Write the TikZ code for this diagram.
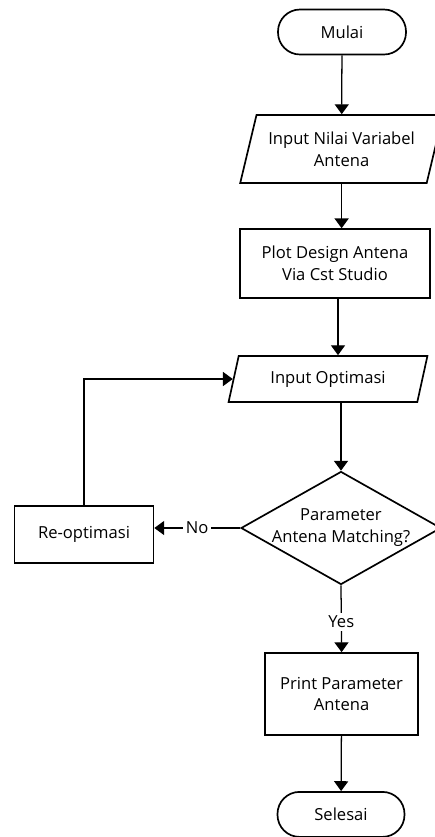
\documentclass[tikz,border=0pt]{standalone}
\usepackage{fontspec}
\setmainfont{Open Sans}
\usetikzlibrary{arrows.meta,shapes.geometric}

\begin{document}
\begin{tikzpicture}[
    >={Triangle[width=10pt,length=7pt]},
    every node/.style={font=\fontsize{11.8}{15.6}\selectfont},
    flow/.style={->, line width=0.9pt},
    term/.style={draw, line width=1.2pt, rounded corners=0.55cm, minimum width=3.2cm, minimum height=1.125cm, align=center},
    io/.style={draw, line width=1.2pt, trapezium, trapezium left angle=68, trapezium right angle=112, trapezium stretches, align=center, inner sep=0pt},
    proc/.style={draw, line width=1.2pt, align=center, inner sep=0pt},
    decide/.style={draw, line width=1.2pt, diamond, aspect=1.77, align=center, inner sep=-1.6pt},
    lbl/.style={fill=white, inner sep=2pt}
]
\useasboundingbox (0,0) rectangle (10.85,-20.925);

\node[term] (start) at (8.55,-0.8) {Mulai};
\node[io, minimum width=5.075cm, minimum height=1.7cm] (in1) at (8.54,-3.725) {Input Nilai Variabel\\Antena};
\node[proc, minimum width=4.75cm, minimum height=1.725cm] (plot) at (8.375,-6.59) {Plot Design Antena\\Via Cst Studio};
\node[io, minimum width=5.0cm, minimum height=1.15cm] (in2) at (8.2,-9.475) {Input Optimasi};
\node[decide, minimum width=5.0cm, minimum height=2.825cm] (dec) at (8.525,-13.2) {Parameter\\Antena Matching?};
\node[proc, minimum width=3.475cm, minimum height=1.425cm] (reopt) at (2.1,-13.36) {Re-optimasi};
\node[proc, minimum width=3.825cm, minimum height=2.05cm] (print) at (8.54,-17.35) {Print Parameter\\Antena};
\node[term, minimum width=3.175cm] (end) at (8.525,-20.36) {Selesai};

\draw[flow] (start) -- (in1);
\draw[flow] (in1.south) -- (in1.south |- plot.north);
\draw[flow] ([xshift=0.075cm]plot.south) -- ([xshift=0.075cm]plot.south |- in2.north);
\draw[flow] (in2.south -| dec.north) -- (dec.north);
\draw[flow] (dec.west) -- node[lbl] {No} (dec.west -| reopt.east);
\draw[flow] (reopt.north) |- (in2.west);
\draw[flow] (dec.south) -- node[lbl, pos=0.55] {Yes} (print.north);
\draw[flow] (print) -- (end);
\end{tikzpicture}
\end{document}
